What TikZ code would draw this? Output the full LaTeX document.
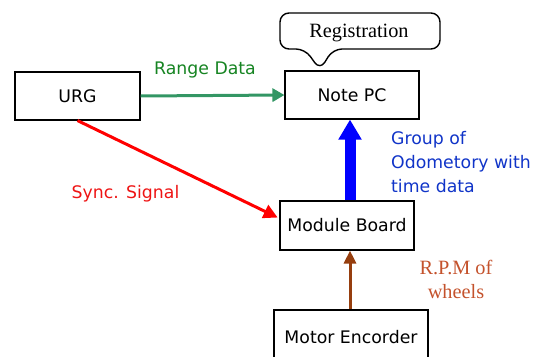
\documentclass[tikz,border=0pt]{standalone}
\usepackage{fontspec}
\setmainfont{DejaVu Sans}
\newfontfamily\serifface{Liberation Serif}
\usetikzlibrary{arrows.meta,calc}
\definecolor{rangetext}{RGB}{22,132,34}
\definecolor{rangeline}{RGB}{51,150,100}
\definecolor{synctext}{RGB}{238,20,20}
\definecolor{odotext}{RGB}{16,52,200}
\definecolor{rpmline}{RGB}{150,62,14}
\definecolor{rpmtext}{RGB}{196,82,44}
\tikzset{
  block/.style={draw=black, line width=1.1pt, fill=white, inner sep=0pt,
    font=\fontsize{17.3}{20}\selectfont},
  link/.style={line width=3pt},
  sanslabel/.style={inner sep=0pt, font=\fontsize{17.3}{24}\selectfont},
  seriflabel/.style={inner sep=0pt, font=\serifface\fontsize{20.3}{24}\selectfont},
}
\begin{document}
\begin{tikzpicture}[x=1pt, y=-1pt]
  \useasboundingbox (0,0) rectangle (534,356);
  \clip (0,0) rectangle (534,356);

  % blocks
  \node[block, minimum width=125pt, minimum height=48pt] (urg) at (77.5,96) {URG};
  \node[block, minimum width=134pt, minimum height=48pt] (pc) at (352,95) {Note PC};
  \node[block, minimum width=134pt, minimum height=49pt] (mb) at (347,225.5) {Module Board};
  \node[block, minimum width=154pt, minimum height=54pt] (me) at (351,337) {Motor Encorder};

  % speech bubble above the PC
  \draw[line width=1.4pt, rounded corners=9pt, fill=white]
    (320,70) -- (305,49) -- (280,49) -- (280,13) -- (440,13) -- (440,49) -- (333,49) -- cycle;
  \node[seriflabel, anchor=base] (reg) at (359,37) {Registration};

  % range data
  \draw[link, rangeline, -{Triangle[width=13pt,length=12pt]}] (urg.east) -- (pc.west);
  \node[sanslabel, text=rangetext, anchor=base] (rangelbl) at (205,74) {Range Data};

  % sync signal
  \coordinate (synctip) at (mb.174);
  \draw[link, red, -{Triangle[width=14pt,length=14pt]}, shorten >=2pt] (urg.south) -- (synctip);
  \node[sanslabel, text=synctext, anchor=base] (synclbl) at (125.5,198) {Sync. Signal};

  % odometry to PC
  \coordinate (odofrom) at ($(mb.north)+(3,0)$);
  \coordinate (odoto) at ($(pc.south)+(-2,0)$);
  \draw[line width=11pt, blue, -{Triangle[width=22pt,length=20pt]}] (odofrom) -- (odoto);
  \node[sanslabel, text=odotext, anchor=north west, align=left] (odolbl) at (391,131)
    {Group of\\Odometory with\\time data};

  % encoder to module board
  \coordinate (rpmfrom) at ($(me.north)+(-1,0)$);
  \coordinate (rpmto) at ($(mb.south)+(3,0)$);
  \draw[link, rpmline, -{Triangle[width=12pt,length=13pt]}] (rpmfrom) -- (rpmto);
  \node[seriflabel, text=rpmtext, anchor=north, align=center] (rpmlbl) at (456,260)
    {R.P.M of\\wheels};
\end{tikzpicture}
\end{document}
